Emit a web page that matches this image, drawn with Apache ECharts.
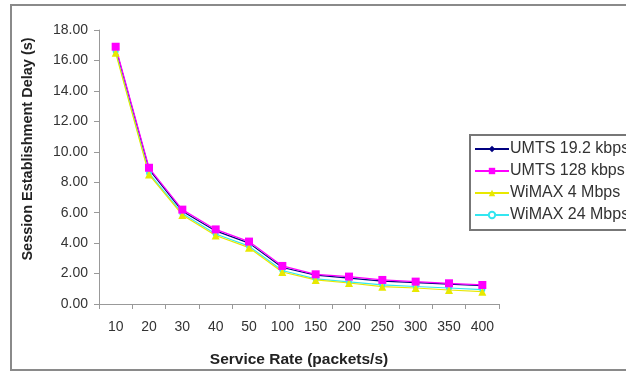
<!DOCTYPE html>
<html><head><meta charset="utf-8">
<script src="https://cdn.jsdelivr.net/npm/echarts@6/dist/echarts.min.js"></script>
<style>html,body{margin:0;padding:0;background:#fff}#c{width:626px;height:373px}</style>
</head><body><div id="c"></div>
<script>
const categories = ['10','20','30','40','50','100','150','200','250','300','350','400'];
const umts192 = [16.8, 8.85, 6.1, 4.8, 4.0, 2.4, 1.9, 1.7, 1.5, 1.4, 1.3, 1.2];
const umts128 = [16.9, 8.95, 6.2, 4.9, 4.1, 2.5, 1.95, 1.8, 1.58, 1.47, 1.36, 1.25];
const wimax4 = [16.5, 8.5, 5.85, 4.5, 3.7, 2.1, 1.58, 1.38, 1.14, 1.05, 0.92, 0.81];
const wimax24 = [16.6, 8.6, 5.95, 4.6, 3.8, 2.2, 1.65, 1.45, 1.25, 1.15, 1.05, 0.95];
const yTicks = {min: 0, max: 18, interval: 2};

const chart = echarts.init(document.getElementById('c'), null, {renderer: 'canvas'});
const font = 'Arial, "Liberation Sans", sans-serif';
function s(name, data, color, symbol, size) {
  return {name, type: 'line', data, symbol, symbolSize: size,
    lineStyle: {color, width: 1.2}, itemStyle: {color}, z: 2};
}
chart.setOption({
  animation: false,
  backgroundColor: '#fff',
  graphic: [{type: 'rect', shape: {x: 11, y: 5, width: 640, height: 365},
    style: {fill: 'none', stroke: '#8a8a8a', lineWidth: 2}, z: -1}],
  grid: {left: 99, top: 30, width: 400, height: 274, outerBoundsMode: 'none', containLabel: false},
  xAxis: {type: 'category', data: categories, boundaryGap: true,
    name: 'Service Rate (packets/s)', nameLocation: 'middle', nameGap: 48,
    nameTextStyle: {fontFamily: font, fontWeight: 'bold', fontSize: 15.5, color: '#222'},
    axisLine: {lineStyle: {color: '#999'}},
    axisTick: {show: true, alignWithLabel: false, lineStyle: {color: '#999'}, length: 5},
    axisLabel: {fontFamily: font, fontSize: 14, color: '#333', margin: 16}},
  yAxis: {type: 'value', min: yTicks.min, max: yTicks.max, interval: yTicks.interval,
    name: 'Session Establishment Delay (s)', nameLocation: 'middle', nameGap: 64,
    nameTextStyle: {fontFamily: font, fontWeight: 'bold', fontSize: 14.5, color: '#222',
      padding: [0, 0, 0, 36]},
    axisLine: {show: true, lineStyle: {color: '#999'}},
    axisTick: {show: true, lineStyle: {color: '#999'}, length: 5},
    splitLine: {show: false},
    axisLabel: {fontFamily: font, fontSize: 14, color: '#333', margin: 11,
      formatter: v => v.toFixed(2)}},
  legend: {orient: 'vertical', left: 470, top: 135, itemWidth: 34, itemHeight: 8, itemGap: 6,
    padding: [6, 8, 7, 4], borderColor: '#777', borderWidth: 2, backgroundColor: '#fff',
    textStyle: {fontFamily: font, fontSize: 16, color: '#333', padding: [0, 0, 0, -4]},
    data: ['UMTS 19.2 kbps', 'UMTS 128 kbps', 'WiMAX 4 Mbps', 'WiMAX 24 Mbps']},
  series: [
    s('UMTS 19.2 kbps', umts192, '#000080', 'diamond', 7),
    s('WiMAX 24 Mbps', wimax24, '#33e6f0', 'emptyCircle', 4),
    s('WiMAX 4 Mbps', wimax4, '#e8e800', 'triangle', 8),
    s('UMTS 128 kbps', umts128, '#ff00ff', 'rect', 8)
  ]
});
</script></body></html>
